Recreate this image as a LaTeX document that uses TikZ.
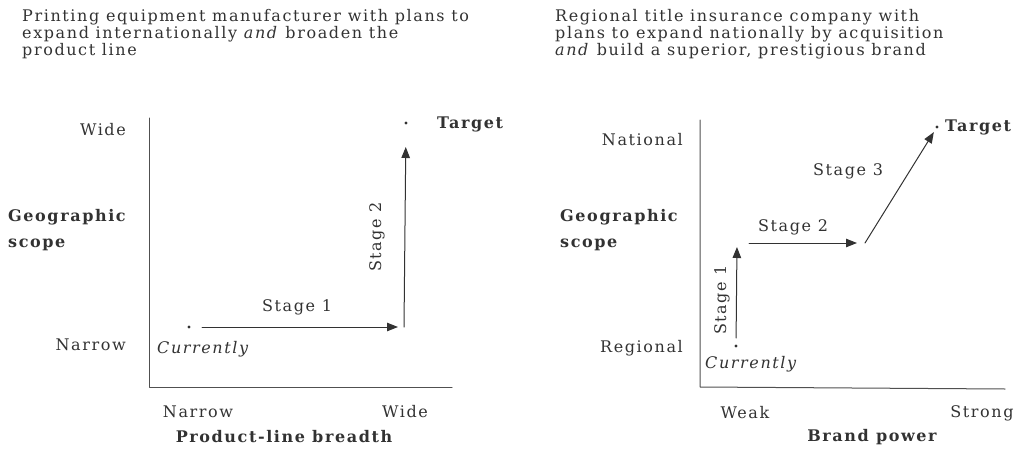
\documentclass[tikz,border=0pt]{standalone}
\usepackage{fontspec}
\setmainfont{DejaVu Serif}[LetterSpace=10]
\usetikzlibrary{arrows.meta}
\definecolor{inkgray}{RGB}{50,50,50}
\definecolor{axisgray}{RGB}{80,80,80}

\begin{document}
\begin{tikzpicture}[line cap=round,line join=round,>={Triangle[length=11pt,width=8.5pt]},x=1pt,y=-1pt,
    txt/.style={inner sep=0pt,text=inkgray,font=\fontsize{16}{17}\selectfont},
    bold/.style={txt,font=\fontsize{16}{26}\selectfont\bfseries},
    axis/.style={draw=axisgray,line width=1pt},
    move/.style={draw=inkgray,line width=1pt,->}]
  \useasboundingbox (0,0) rectangle (1017,460);

  % left panel: printing equipment
  \node[txt,anchor=north west,align=left] (titleL) at (22,9)
    {Printing equipment manufacturer with plans to\\expand internationally \textit{and} broaden the\\product line};
  \coordinate (oL) at (149,387);
  \draw[axis] (149,118) -- (oL) -- (452,387);
  \node[txt,anchor=east] (wideY) at (126,130) {Wide};
  \node[txt,anchor=east] (narrowY) at (126,345) {Narrow};
  \node[bold,anchor=west,align=left] (geoL) at (8,230) {Geographic\\scope};
  \node[txt] (narrowX) at (198,412) {Narrow};
  \node[txt] (wideX) at (405,412) {Wide};
  \node[bold] (axisL) at (284,437) {Product-line breadth};

  \coordinate (curL) at (189,327);
  \fill[inkgray] (curL) circle (1.6pt);
  \node[txt,anchor=west] (curLtxt) at (157,349) {\itshape Currently};
  \coordinate (turnL) at (404,327);
  \coordinate (tgtL) at (406,123);
  \fill[inkgray] (tgtL) circle (1.6pt);
  \node[bold,anchor=west] (tgtLtxt) at (437,124) {Target};
  \draw[move,shorten <=13pt,shorten >=6pt] (curL) -- (turnL);
  \draw[move,shorten >=24pt] (turnL) -- (tgtL);
  \node[txt] (s1L) at (297,307) {Stage 1};
  \node[txt,rotate=90] (s2L) at (377,237) {Stage 2};

  % right panel: title insurance
  \node[txt,anchor=north west,align=left] (titleR) at (555,9)
    {Regional title insurance company with\\plans to expand nationally by acquisition\\\textit{and} build a superior, prestigious brand};
  \coordinate (oR) at (700,387);
  \draw[axis] (700,120) -- (oR) -- (1005,389);
  \node[txt,anchor=east] (natY) at (683,140) {National};
  \node[txt,anchor=east] (regY) at (683,348) {Regional};
  \node[bold,anchor=west,align=left] (geoR) at (560,230) {Geographic\\scope};
  \node[txt] (weakX) at (745,413) {Weak};
  \node[txt] (strongX) at (982,413) {Strong};
  \node[bold] (axisR) at (872,437) {Brand power};

  \coordinate (curR) at (736,346);
  \fill[inkgray] (curR) circle (1.6pt);
  \node[txt,anchor=west] (curRtxt) at (705,364) {\itshape Currently};
  \coordinate (upR) at (737,243);
  \coordinate (midR) at (865,243);
  \coordinate (tgtR) at (937,127);
  \fill[inkgray] (tgtR) circle (1.6pt);
  \node[bold,anchor=west] (tgtRtxt) at (945,127) {Target};
  \draw[move,shorten <=8pt,shorten >=4pt] (curR) -- (upR);
  \draw[move,shorten <=12pt,shorten >=8pt] (upR) -- (midR);
  \draw[move,shorten >=6pt] (midR) -- (tgtR);
  \node[txt,rotate=90] (s1R) at (722,300) {Stage 1};
  \node[txt] (s2R) at (793,227) {Stage 2};
  \node[txt] (s3R) at (848,171) {Stage 3};
\end{tikzpicture}
\end{document}
